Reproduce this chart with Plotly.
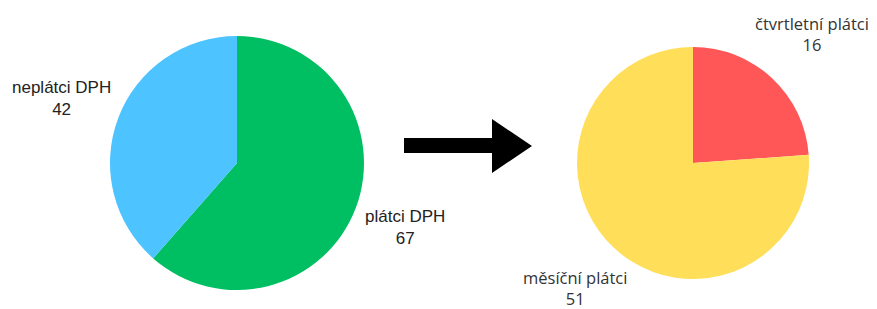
import plotly.graph_objects as go

W, H = 877, 309
OFF = 8  # page body margin

left_labels = ["plátci DPH", "neplátci DPH"]
left_values = [67, 42]
right_labels = ["čtvrtletní plátci", "měsíční plátci"]
right_values = [16, 51]

left_colors = ["#00BF63", "#4DC3FF"]
right_colors = ["#FF5757", "#FFDE59"]


def px(x):
    return (x - OFF) / W


def py(y):
    return 1 - (y - OFF) / H


fig = go.Figure()
fig.add_trace(go.Pie(
    labels=left_labels, values=left_values, sort=False, direction="clockwise",
    rotation=0, marker=dict(colors=left_colors), textinfo="none", hoverinfo="label+value",
    domain=dict(x=[px(110), px(364)], y=[py(290), py(36)]), showlegend=False,
))
fig.add_trace(go.Pie(
    labels=right_labels, values=right_values, sort=False, direction="clockwise",
    rotation=0, marker=dict(colors=right_colors), textinfo="none", hoverinfo="label+value",
    domain=dict(x=[px(577), px(809)], y=[py(279), py(47)]), showlegend=False,
))

left_pos = [(405, 227), (61, 98)]
right_pos = [(812, 34), (575, 288)]
anns = []
for (x, y), lab, val in zip(left_pos, left_labels, left_values):
    anns.append(dict(x=px(x), y=py(y), xref="paper", yref="paper", showarrow=False,
                     xanchor="center", yanchor="middle",
                     text=f"{lab}<br>{val}", align="center",
                     font=dict(family="Liberation Sans", size=17, color="#222")))
for (x, y), lab, val in zip(right_pos, right_labels, right_values):
    anns.append(dict(x=px(x), y=py(y), xref="paper", yref="paper", showarrow=False,
                     xanchor="center", yanchor="middle",
                     text=f"{lab}<br>{val}", align="center",
                     font=dict(family="Open Sans", size=16.5, color="#333")))

pts = [(404, 138), (492, 138), (492, 119), (532, 146), (492, 173), (492, 153), (404, 153)]
path = "M " + " L ".join(f"{px(x)},{py(y)}" for x, y in pts) + " Z"

fig.update_layout(
    width=W, height=H, margin=dict(l=0, r=0, t=0, b=0),
    paper_bgcolor="white", plot_bgcolor="white",
    annotations=anns,
    shapes=[dict(type="path", path=path, xref="paper", yref="paper",
                 fillcolor="black", line=dict(width=0))],
)
fig.write_html("out.html")
